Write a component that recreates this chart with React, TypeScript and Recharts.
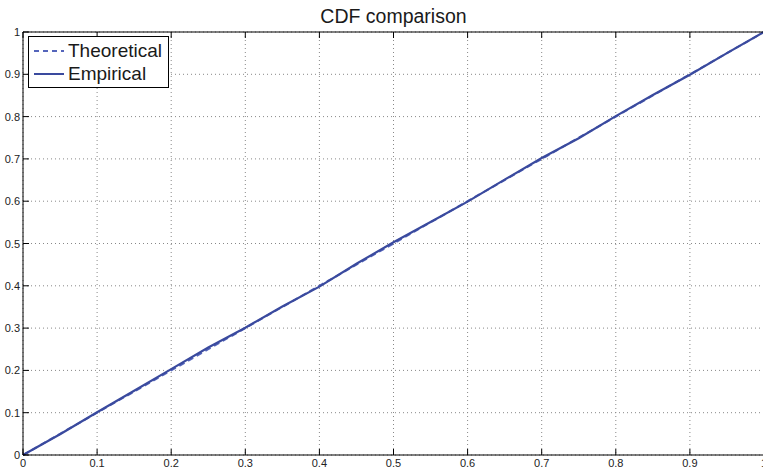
import React from "react";
import { LineChart, Line, XAxis, YAxis, CartesianGrid } from "recharts";

// sample points along x
const xValues = [0, 0.05, 0.1, 0.15, 0.2, 0.25, 0.3, 0.35, 0.4, 0.45, 0.5, 0.55, 0.6, 0.65, 0.7, 0.75, 0.8, 0.85, 0.9, 0.95, 1];
const theoretical = [0, 0.05, 0.1, 0.15, 0.2, 0.25, 0.3, 0.35, 0.4, 0.45, 0.5, 0.55, 0.6, 0.65, 0.7, 0.75, 0.8, 0.85, 0.9, 0.95, 1];
const empirical = [0, 0.049, 0.101, 0.152, 0.203, 0.254, 0.301, 0.351, 0.398, 0.452, 0.503, 0.551, 0.599, 0.651, 0.702, 0.749, 0.801, 0.851, 0.899, 0.95, 1];
const xTicks = [0, 0.1, 0.2, 0.3, 0.4, 0.5, 0.6, 0.7, 0.8, 0.9, 1];
const yTicks = [0, 0.1, 0.2, 0.3, 0.4, 0.5, 0.6, 0.7, 0.8, 0.9, 1];

const data = xValues.map((x, i) => ({ x, theoretical: theoretical[i], empirical: empirical[i] }));

const FONT = '"Liberation Sans", Arial, Helvetica, sans-serif';
const LINE_COLOR = "#3a4a9e";
const DASH_COLOR = "#5565bb";

const fmt = (v: number) => String(Number(v.toFixed(1)));

const BottomTick = (props: any) => {
  const { x, y, payload } = props;
  return (
    <g>
      <line x1={x} y1={y} x2={x} y2={y - 6} stroke="#000" strokeWidth={1} />
      <text x={x} y={y + 12} textAnchor="middle" fontSize={11} fill="#222" fontFamily={FONT}>
        {fmt(payload.value)}
      </text>
    </g>
  );
};

const TopTick = (props: any) => {
  const { x, y } = props;
  return <line x1={x} y1={y} x2={x} y2={y + 6} stroke="#000" strokeWidth={1} />;
};

const LeftTick = (props: any) => {
  const { x, y, payload } = props;
  return (
    <g>
      <line x1={x} y1={y} x2={x + 6} y2={y} stroke="#000" strokeWidth={1} />
      <text x={x - 3} y={y + 4} textAnchor="end" fontSize={11} fill="#222" fontFamily={FONT}>
        {fmt(payload.value)}
      </text>
    </g>
  );
};

const RightTick = (props: any) => {
  const { x, y } = props;
  return <line x1={x} y1={y} x2={x - 6} y2={y} stroke="#000" strokeWidth={1} />;
};

export default function App() {
  return (
    <div style={{ position: "absolute", left: 0, top: 0, width: 763, height: 468, overflow: "hidden", background: "#fff" }}>
      <div
        style={{
          position: "absolute",
          left: 23,
          width: 741,
          top: 6,
          textAlign: "center",
          fontFamily: FONT,
          fontSize: 19.5,
          lineHeight: "20px",
          color: "#1a1a1a",
        }}
      >
        CDF comparison
      </div>
      <LineChart width={790} height={468} data={data} margin={{ top: 31, left: 3, right: 20, bottom: 0 }}>
        <CartesianGrid stroke="#888" strokeDasharray="1 3" />
        <XAxis
          dataKey="x"
          type="number"
          domain={[0, 1]}
          ticks={xTicks}
          height={13}
          tickSize={0}
          tickMargin={0}
          tickLine={false}
          axisLine={{ stroke: "#000", strokeWidth: 1 }}
          tick={<BottomTick />}
          interval={0}
        />
        <XAxis
          xAxisId="top"
          orientation="top"
          dataKey="x"
          type="number"
          domain={[0, 1]}
          ticks={xTicks}
          height={1}
          tickSize={0}
          tickMargin={0}
          tickLine={false}
          axisLine={{ stroke: "#000", strokeWidth: 1 }}
          tick={<TopTick />}
          interval={0}
        />
        <YAxis
          type="number"
          domain={[0, 1]}
          ticks={yTicks}
          width={20}
          tickSize={0}
          tickMargin={0}
          tickLine={false}
          axisLine={{ stroke: "#000", strokeWidth: 1 }}
          tick={<LeftTick />}
          interval={0}
        />
        <YAxis
          yAxisId="right"
          orientation="right"
          type="number"
          domain={[0, 1]}
          ticks={yTicks}
          width={6}
          tickSize={0}
          tickMargin={0}
          tickLine={false}
          axisLine={{ stroke: "#000", strokeWidth: 1 }}
          tick={<RightTick />}
          interval={0}
        />
        <Line
          dataKey="theoretical"
          type="linear"
          stroke={DASH_COLOR}
          strokeWidth={2}
          strokeDasharray="6 4"
          dot={false}
          isAnimationActive={false}
        />
        <Line
          dataKey="empirical"
          type="linear"
          stroke={LINE_COLOR}
          strokeWidth={2.2}
          dot={false}
          isAnimationActive={false}
        />
      </LineChart>
      <div
        style={{
          position: "absolute",
          left: 28,
          top: 36,
          width: 141,
          height: 52,
          background: "#fff",
          border: "1px solid #000",
          boxSizing: "border-box",
          fontFamily: FONT,
          fontSize: 19,
          color: "#1a1a1a",
        }}
      >
        {[
          { name: "Theoretical", dash: "5 4", color: DASH_COLOR, top: 3 },
          { name: "Empirical", dash: undefined, color: LINE_COLOR, top: 26 },
        ].map((item) => (
          <div key={item.name} style={{ position: "absolute", left: 5, top: item.top, height: 22, display: "flex", alignItems: "center" }}>
            <svg width={30} height={6}>
              <line x1={0} y1={3} x2={30} y2={3} stroke={item.color} strokeWidth={2} strokeDasharray={item.dash} />
            </svg>
            <span style={{ marginLeft: 4, lineHeight: "22px", whiteSpace: "nowrap" }}>{item.name}</span>
          </div>
        ))}
      </div>
    </div>
  );
}
